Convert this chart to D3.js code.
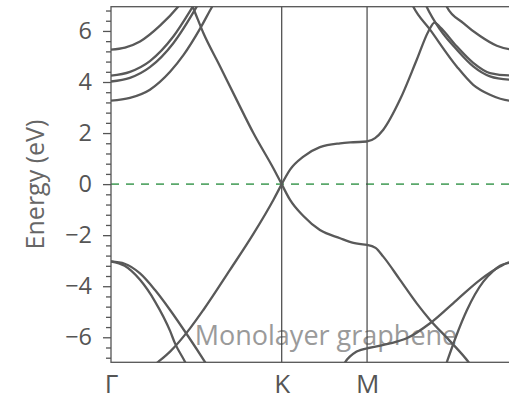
<!DOCTYPE html>
<html>
<head>
<meta charset="utf-8">
<script src="https://cdn.jsdelivr.net/npm/d3@7"></script>
<style>
  body { margin: 0; background: #fff; }
  svg { display: block; font-family: "Open Sans", "Noto Sans", sans-serif; }
</style>
</head>
<body>
<div id="chart"></div>
<script>
// k-path positions (|ΓK| = 1) and labels
const kTicks = [0, 1, 1.5, 2.366];
const kLabels = ["Γ", "K", "M", "Γ"];
const yTicks = [-6, -4, -2, 0, 2, 4, 6];

// Γ–K segment  [k, E(eV)]
const gkPiV = [[0, -8.1], [0.15, -7.6], [0.277, -6.96], [0.346, -6.56], [0.463, -5.65], [0.541, -4.93], [0.697, -3.36], [0.834, -1.95], [0.951, -0.62], [1, 0]];
const gkPiC = [[0.42, 7.8], [0.48, 6.92], [0.541, 5.92], [0.639, 4.61], [0.736, 3.3], [0.834, 2.0], [0.951, 0.62], [1, 0]];
const gkSig1 = [[0, -3.03], [0.08, -3.12], [0.17, -3.5], [0.258, -4.15], [0.346, -4.93], [0.447, -5.91], [0.551, -6.97], [0.61, -7.6]];
const gkSig2 = [[0, -3.03], [0.08, -3.2], [0.17, -3.75], [0.258, -4.6], [0.346, -5.75], [0.375, -6.24], [0.434, -6.97], [0.47, -7.5]];
const gkA = [[0, 5.27], [0.082, 5.35], [0.17, 5.59], [0.287, 6.21], [0.393, 6.95], [0.434, 7.3]];
const gkB = [[0, 4.25], [0.111, 4.4], [0.228, 4.82], [0.365, 5.78], [0.479, 6.95], [0.52, 7.4]];
const gkC = [[0, 4.02], [0.111, 4.16], [0.228, 4.58], [0.365, 5.52], [0.502, 6.95], [0.54, 7.4]];
const gkD = [[0, 3.27], [0.111, 3.38], [0.228, 3.7], [0.346, 4.4], [0.424, 5.05], [0.521, 6.08], [0.592, 6.95], [0.64, 7.5]];

// K–M segment
const kmPiC = [[1, 0], [1.049, 0.57], [1.127, 1.08], [1.224, 1.45], [1.342, 1.6], [1.42, 1.64], [1.5, 1.67]];
const kmPiV = [[1, 0], [1.049, -0.62], [1.127, -1.25], [1.224, -1.8], [1.342, -2.12], [1.42, -2.3], [1.5, -2.38]];
const kmSig = [[1.33, -7.5], [1.371, -6.98], [1.439, -6.56], [1.5, -6.43]];

// M–Γ segment
const mgPiV = [[1.5, -2.38], [1.55, -2.5], [1.595, -2.84], [1.693, -3.75], [1.791, -4.67], [1.869, -5.32], [1.986, -6.15], [2.093, -6.96], [2.13, -7.3]];
const mgPiC = [[1.5, 1.67], [1.547, 1.8], [1.595, 2.13], [1.693, 3.31], [1.791, 4.87], [1.859, 5.98], [1.895, 6.33], [1.927, 6.15], [2.025, 5.4], [2.122, 4.75], [2.22, 4.35], [2.332, 4.26], [2.366, 4.26]];
const mgSig1 = [[1.5, -6.43], [1.634, -6.24], [1.732, -6.04], [1.869, -5.45], [2.025, -4.54], [2.162, -3.75], [2.279, -3.23], [2.318, -3.1], [2.366, -3.05]];
const mgSig2 = [[1.94, -7.5], [1.967, -6.98], [2.025, -5.9], [2.084, -4.95], [2.181, -3.82], [2.24, -3.4], [2.279, -3.2], [2.318, -3.1], [2.366, -3.05]];
const mgA = [[1.94, 7.4], [1.967, 6.95], [2.064, 6.31], [2.162, 5.8], [2.26, 5.42], [2.332, 5.29], [2.366, 5.28]];
const mgC = [[1.82, 7.4], [1.849, 6.95], [1.927, 6.06], [2.025, 5.27], [2.122, 4.61], [2.22, 4.22], [2.332, 4.09], [2.366, 4.08]];
const mgD = [[1.74, 7.4], [1.771, 6.95], [1.869, 6.05], [2.025, 4.61], [2.122, 3.89], [2.22, 3.5], [2.332, 3.27], [2.366, 3.26]];

const bands = [gkPiV, gkPiC, gkSig1, gkSig2, gkA, gkB, gkC, gkD,
               kmPiC, kmPiV, kmSig,
               mgPiV, mgPiC, mgSig1, mgSig2, mgA, mgC, mgD];

const W = 509, H = 401;
const plotL = 111, plotR = 514.9, plotT = 6.7, plotB = 362.3;

const svg = d3.select('#chart').append('svg')
    .attr('width', W)
    .attr('height', H);

const x = d3.scaleLinear().domain([0, 2.366]).range([plotL, plotR]);
const y = d3.scaleLinear().domain([-6.98, 6.95]).range([plotB, plotT]);

svg.append('defs').append('clipPath').attr('id', 'plot')
    .append('rect')
    .attr('x', plotL).attr('y', plotT)
    .attr('width', plotR - plotL).attr('height', plotB - plotT);

// caption sits under the bands
svg.append('text')
    .attr('x', 326)
    .attr('y', 345)
    .attr('text-anchor', 'middle')
    .attr('font-size', 27)
    .attr('fill', '#9a9a9a')
    .text('Monolayer graphene');

// Fermi level
svg.append('line')
    .attr('x1', plotL).attr('x2', plotR)
    .attr('y1', y(0)).attr('y2', y(0))
    .attr('stroke', '#5aa86b')
    .attr('stroke-width', 1.6)
    .attr('stroke-dasharray', '8,7');

// high-symmetry verticals
svg.selectAll('line.sym')
    .data(kTicks.slice(1, 3))
    .join('line')
    .attr('class', 'sym')
    .attr('x1', d => x(d)).attr('x2', d => x(d))
    .attr('y1', plotT).attr('y2', plotB)
    .attr('stroke', '#444')
    .attr('stroke-width', 1.2);

// bands
const line = d3.line()
    .x(d => x(d[0]))
    .y(d => y(d[1]))
    .curve(d3.curveMonotoneX);

svg.append('g')
    .attr('clip-path', 'url(#plot)')
    .selectAll('path')
    .data(bands)
    .join('path')
    .attr('d', line)
    .attr('fill', 'none')
    .attr('stroke', '#595959')
    .attr('stroke-width', 2.3);

// frame
svg.append('rect')
    .attr('x', plotL).attr('y', plotT)
    .attr('width', plotR - plotL).attr('height', plotB - plotT)
    .attr('fill', 'none')
    .attr('stroke', '#555')
    .attr('stroke-width', 1.3);

// y axis, major + minor ticks
const minor = d3.range(-6.8, 7, 0.4).map(v => +v.toFixed(1)).filter(v => Math.abs(v % 2) > 0.01);

const yMinor = svg.append('g')
    .attr('transform', `translate(${plotL},0)`)
    .call(d3.axisLeft(y).tickValues(minor).tickSize(5).tickFormat(''));
yMinor.select('.domain').remove();
yMinor.selectAll('line').attr('stroke', '#555').attr('stroke-width', 1.3);

const yAxisG = svg.append('g')
    .attr('transform', `translate(${plotL},0)`)
    .call(d3.axisLeft(y).tickValues(yTicks).tickSize(8).tickPadding(11)
        .tickFormat(d => d < 0 ? '\u2212' + Math.abs(d) : d));
yAxisG.select('.domain').remove();
yAxisG.selectAll('line').attr('stroke', '#555').attr('stroke-width', 1.3);
yAxisG.selectAll('text')
    .attr('font-size', 23.5)
    .attr('font-family', '"Open Sans", sans-serif')
    .attr('fill', '#555');

// x axis labels
const xAxisG = svg.append('g')
    .attr('transform', `translate(0,${plotB})`)
    .call(d3.axisBottom(x).tickValues(kTicks).tickSize(0).tickPadding(12)
        .tickFormat((d, i) => kLabels[i]));
xAxisG.select('.domain').remove();
xAxisG.selectAll('text')
    .attr('font-size', 26)
    .attr('font-family', '"Open Sans", sans-serif')
    .attr('fill', '#555');

// y title
svg.append('text')
    .attr('transform', `translate(44,${(plotT + plotB) / 2}) rotate(-90)`)
    .attr('text-anchor', 'middle')
    .attr('font-size', 25)
    .attr('fill', '#666')
    .text('Energy (eV)');
</script>
</body>
</html>
